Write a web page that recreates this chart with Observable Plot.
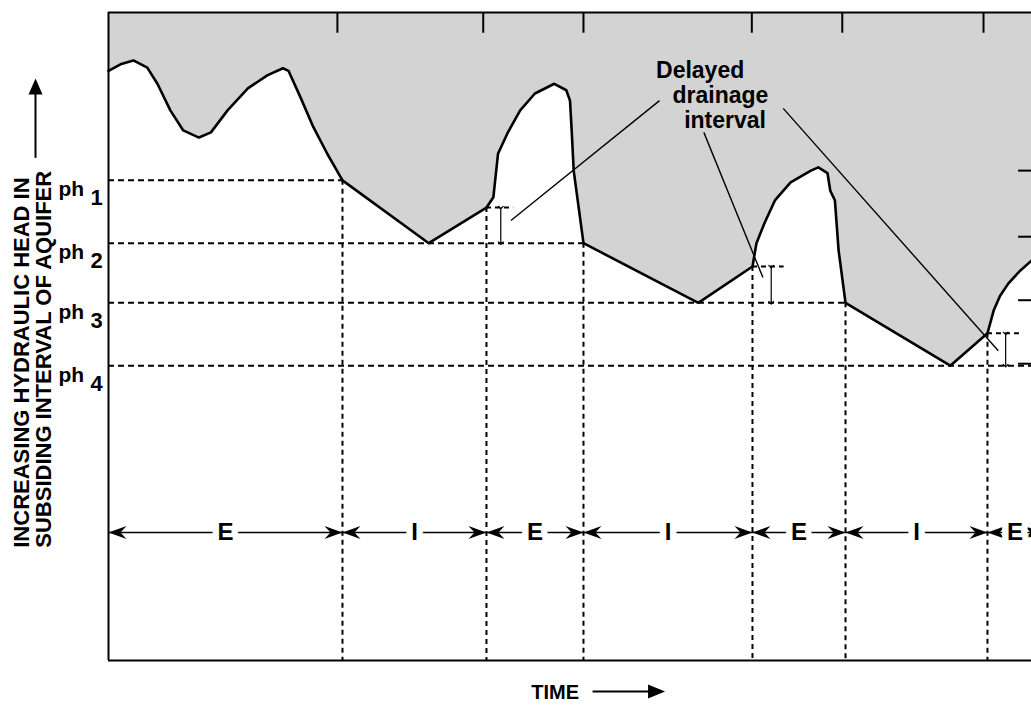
<!DOCTYPE html>
<html><head><meta charset="utf-8">
<script src="https://cdn.jsdelivr.net/npm/d3@7"></script>
<script src="https://cdn.jsdelivr.net/npm/@observablehq/plot@0.6"></script>
<style>html,body{margin:0;padding:0;background:#fff;overflow:hidden}</style>
</head><body><div id="chart"></div>
<script>
// ---- data (time and head in arbitrary units, 0-100) ----
const curveT = [0,1.3,2.7,4.2,5.3,6.7,8.1,9.8,11.1,12.9,15.1,17.2,18.9,19.5,20.8,22.2,23.7,25.35,34.7,40.95,41.7,42.2,43.2,44.6,46.2,48.3,49.6,50.0,50.2,50.4,51.46,63.9,69.77,70.2,71.1,72.2,73.9,76.1,76.9,77.9,78.2,78.7,79.1,79.85,91.2,95.23,95.9,96.6,97.5,98.8,100];
const curveH = [91.0,92.0,92.6,91.5,89.0,84.9,81.8,80.7,81.5,84.9,88.3,90.3,91.4,91.0,86.9,82.3,78.2,74.1,64.4,69.9,71.5,78.2,81.3,84.9,87.5,89.0,88.0,86.4,81.3,75.6,64.4,55.2,60.8,64.4,67.6,71.0,73.8,75.6,76.1,75.2,72.5,71.0,63.3,55.2,45.5,50.5,54.0,56.3,58.2,60.2,61.7];

const phLevels = [74.1, 64.4, 55.2, 45.5];
const phDigits = ["1", "2", "3", "4"];
const phLineEnd = [25.35, 51.46, 79.85, 100];

const boundaryT = [25.35, 40.95, 51.46, 69.77, 79.85, 95.23];
const boundaryH = [74.1, 69.9, 64.4, 60.8, 55.2, 50.5];

const topTickT = [24.8, 40.6, 51.46, 69.7, 79.5, 94.8];
const rightTickH = [75.6, 65.4, 55.6, 45.8];

const intervalStart = [0, 25.35, 40.95, 51.46, 69.77, 79.85, 95.23];
const intervalEnd = [25.35, 40.95, 51.46, 69.77, 79.85, 95.23, 101.2];
const intervalLabel = ["E", "I", "E", "I", "E", "I", "E"];
const intervalRowH = 19.75;

const drainT = [40.95, 69.77, 95.23];
const drainH = [69.9, 60.8, 50.5];
const drainTickEnd = [43.9, 73.2, 99.0];
const drainArrowT = [42.5, 71.8, 97.2];
const drainArrowTo = [64.4, 55.2, 45.5];

const noteLines = ["Delayed", "drainage", "interval"];
const noteT = [64.1, 66.3, 66.8];
const noteH = [91.0, 87.2, 83.3];
const leaderT1 = [59.7, 64.5, 73.1];
const leaderH1 = [86.4, 81.5, 85.2];
const leaderT2 = [43.6, 70.9, 96.4];
const leaderH2 = [67.9, 59.1, 47.8];

const yLabelLines = ["INCREASING HYDRAULIC HEAD IN", "SUBSIDING INTERVAL OF AQUIFER"];
const yLabelStartH = 17.4;
const yArrowFromH = 77.5, yArrowToH = 89.8;
const timeLabelT = 48.4;
const timeArrowT1 = 52.5, timeArrowT2 = 60.3;

// ---- tables built from arrays ----
const curve = curveT.map((t, i) => ({t, h: curveH[i]}));
const ph = phLevels.map((h, i) => ({h, d: phDigits[i], end: phLineEnd[i]}));
const bounds = boundaryT.map((t, i) => ({t, h: boundaryH[i]}));
const intervals = intervalStart.map((s, i) => ({s, e: intervalEnd[i], m: (s + intervalEnd[i]) / 2, label: intervalLabel[i]}));
const drains = drainT.map((t, i) => ({t, h: drainH[i], end: drainTickEnd[i], at: drainArrowT[i], to: drainArrowTo[i]}));
const notes = noteLines.map((s, i) => ({s, t: noteT[i], h: noteH[i]}));
const leaders = leaderT1.map((t, i) => ({t1: t, h1: leaderH1[i], t2: leaderT2[i], h2: leaderH2[i]}));

// arrowhead shapes (tip at origin)
const headRight = {draw(c){c.moveTo(0,0);c.lineTo(-18,-6.5);c.lineTo(-12,0);c.lineTo(-18,6.5);c.closePath();}};
const headLeft = {draw(c){c.moveTo(0,0);c.lineTo(18,-6.5);c.lineTo(12,0);c.lineTo(18,6.5);c.closePath();}};
const headUp = {draw(c){c.moveTo(0,0);c.lineTo(-7,16);c.lineTo(7,16);c.closePath();}};
const headTime = {draw(c){c.moveTo(0,0);c.lineTo(-17,-7);c.lineTo(-17,7);c.closePath();}};

const FONT = "'Liberation Sans', Arial, Helvetica, sans-serif";

const chart = Plot.plot({
  width: 1031,
  height: 705,
  marginLeft: 108,
  marginRight: 0,
  marginTop: 12,
  marginBottom: 45,
  x: {domain: [0, 100], axis: null},
  y: {domain: [0, 100], axis: null},
  style: {fontFamily: FONT, background: "white", color: "black"},
  marks: [
    // shaded region above the head curve
    Plot.areaY(curve, {x: "t", y1: "h", y2: 100, fill: "#d3d3d3"}),
    // horizontal dashed ph lines
    Plot.ruleY(ph, {y: "h", x1: 0, x2: "end", stroke: "black", strokeWidth: 2, strokeDasharray: "6,4"}),
    // vertical dashed boundary lines
    Plot.ruleX(bounds, {x: "t", y1: "h", y2: 0, stroke: "black", strokeWidth: 2, strokeDasharray: "5,4"}),
    // delayed drainage short dashed ticks and small arrows
    Plot.ruleY(drains, {y: "h", x1: "t", x2: "end", stroke: "black", strokeWidth: 2, strokeDasharray: "5,4"}),
    Plot.link(drains, {x1: "at", y1: "h", x2: "at", y2: "to", stroke: "black", strokeWidth: 1.2, markerStart: "arrow", markerEnd: "arrow"}),
    // head curve
    Plot.line(curve, {x: "t", y: "h", stroke: "black", strokeWidth: 2.6, strokeLinejoin: "round"}),
    // frame
    Plot.ruleY([100], {x1: 0, x2: 100, stroke: "black", strokeWidth: 2}),
    Plot.ruleY([0], {x1: 0, x2: 100, stroke: "black", strokeWidth: 2}),
    Plot.ruleX([0], {y1: 0, y2: 100, stroke: "black", strokeWidth: 2}),
    Plot.ruleX(topTickT, {x: d => d, y1: 100, y2: 96.8, stroke: "black", strokeWidth: 2}),
    Plot.ruleY(rightTickH, {y: d => d, x1: 98.6, x2: 100, stroke: "black", strokeWidth: 2}),
    // annotation leaders and text
    Plot.link(leaders, {x1: "t1", y1: "h1", x2: "t2", y2: "h2", stroke: "black", strokeWidth: 1.4}),
    Plot.text(notes, {x: "t", y: "h", text: "s", fontSize: 23, fontWeight: "bold", textAnchor: "middle", lineAnchor: "middle", fill: "black"}),
    // E / I interval arrows
    Plot.ruleY(intervals, {y: intervalRowH, x1: "s", x2: "e", stroke: "black", strokeWidth: 1.6}),
    Plot.dot(intervals, {x: "s", y: intervalRowH, symbol: headLeft, r: 4, fill: "black", stroke: "none"}),
    Plot.dot(intervals, {x: "e", y: intervalRowH, symbol: headRight, r: 4, fill: "black", stroke: "none"}),
    Plot.text(intervals, {x: "m", y: intervalRowH, text: "label", fontSize: 24, fontWeight: "bold", fill: "black", stroke: "white", strokeWidth: 13, paintOrder: "stroke", lineAnchor: "middle"}),
    // ph labels
    Plot.text(ph, {x: 0, y: "h", text: () => "ph", dx: -50, dy: 16, fontSize: 21, fontWeight: "bold", textAnchor: "start", lineAnchor: "bottom", fill: "black"}),
    Plot.text(ph, {x: 0, y: "h", text: "d", dx: -18, dy: 25, fontSize: 22, fontWeight: "bold", textAnchor: "start", lineAnchor: "bottom", fill: "black"}),
    // y axis title (rotated) with arrow
    Plot.text(yLabelLines, {x: 0, y: yLabelStartH, text: d => d, dx: -87, fontSize: 22, fontWeight: "bold", rotate: -90, textAnchor: "start", lineAnchor: "middle", fill: "black", filter: (d, i) => i === 0}),
    Plot.text(yLabelLines, {x: 0, y: yLabelStartH, text: d => d, dx: -65, fontSize: 22, fontWeight: "bold", rotate: -90, textAnchor: "start", lineAnchor: "middle", fill: "black", filter: (d, i) => i === 1}),
    Plot.ruleX([0], {y1: yArrowFromH, y2: yArrowToH - 1.5, dx: -73, stroke: "black", strokeWidth: 2}),
    Plot.dot([0], {x: d => d, y: yArrowToH, dx: -73, symbol: headUp, r: 4, fill: "black", stroke: "none"}),
    // time label with arrow
    Plot.text(["TIME"], {x: timeLabelT, y: 0, text: d => d, dy: 38, fontSize: 20, fontWeight: "bold", lineAnchor: "bottom", fill: "black"}),
    Plot.ruleY([0], {x1: timeArrowT1, x2: timeArrowT2 - 1, dy: 31, stroke: "black", strokeWidth: 2}),
    Plot.dot([0], {x: timeArrowT2, y: d => d, dy: 31, symbol: headTime, r: 4, fill: "black", stroke: "none"})
  ]
});
document.getElementById("chart").appendChild(chart);
</script></body></html>
